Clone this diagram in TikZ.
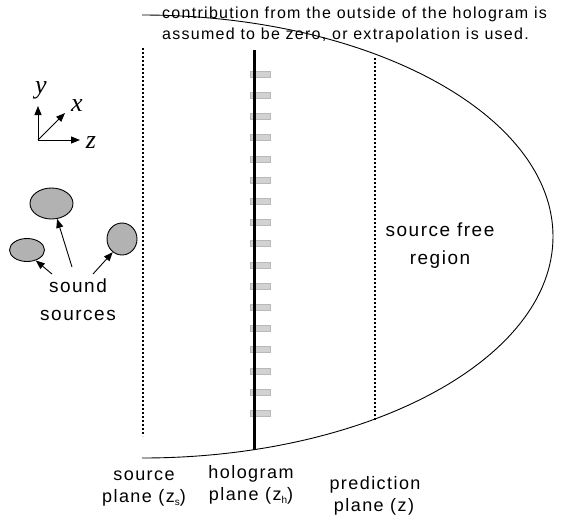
\documentclass[tikz,border=0pt]{standalone}
\usepackage{fontspec}
\setmainfont{Liberation Sans}[LetterSpace=8]
\newfontfamily\tms{Liberation Serif}
\usetikzlibrary{arrows.meta,shapes.geometric}
\newcommand{\smallsub}[1]{\raisebox{-3.5pt}{\fontsize{10}{10}\selectfont #1}}
\begin{document}
\begin{tikzpicture}[x=1pt,y=-1pt,
  lbl/.style={font=\fontsize{18}{22}\selectfont, inner sep=0pt, anchor=base},
  big/.style={font=\fontsize{19}{22}\selectfont, inner sep=0pt, anchor=base},
  toptxt/.style={font=\fontsize{16}{20}\selectfont, inner sep=0pt, anchor=base west},
  axlbl/.style={font=\tms\itshape\fontsize{26}{26}\selectfont, inner sep=0pt},
  axarr/.style={line width=0.9pt, -{Triangle[length=9pt,width=7pt]}},
  srcarr/.style={line width=0.9pt, -{Triangle[length=9pt,width=7pt]}},
  blob/.style={ellipse, draw=black, line width=0.9pt, fill=gray!60, inner sep=0pt},
  dotline/.style={line width=2.2pt, dash pattern=on 2.2pt off 1.8pt},
  mic/.style={draw=gray!55, fill=gray!35, line width=0.4pt, minimum width=20pt, minimum height=6pt, inner sep=0pt},
  bound/.style={line width=0.9pt}]
\useasboundingbox (0,0) rectangle (561,520);
% boundary curve
\coordinate (ctop) at (142,15);
\draw[bound] (ctop) arc[start angle=90, end angle=-90, x radius=411pt, y radius=221.5pt] coordinate (cbot);
% source plane
\coordinate (sp1) at (143,48);
\coordinate (sp2) at (143,436);
\draw[dotline] (sp1) -- (sp2);
% prediction plane
\coordinate (pp1) at (375,58);
\coordinate (pp2) at (375,421);
\draw[dotline] (pp1) -- (pp2);
% hologram plane
\foreach \i in {0,...,16} {
  \node[mic] (m\i) at (260,{74+\i*21.2}) {};
}
\coordinate (hp1) at (254,50);
\coordinate (hp2) at (254,450);
\draw[line width=3pt] (hp1) -- (hp2);
% axes
\coordinate (O) at (38,140);
\coordinate (Y) at (38,106);
\coordinate (X) at (65,113);
\coordinate (Z) at (80,140);
\draw[axarr] (O) -- (Y);
\draw[axarr] (O) -- (X);
\draw[axarr] (O) -- (Z);
\node[axlbl] (ly) at (41,90) {y};
\node[axlbl] (lx) at (77,106) {x};
\node[axlbl] (lz) at (91,143) {z};
% sound sources
\node[blob, minimum width=43pt, minimum height=31pt] (s1) at (51.5,203.5) {};
\node[blob, minimum width=35pt, minimum height=23pt] (s2) at (27,250) {};
\node[blob, minimum width=30pt, minimum height=32pt] (s3) at (122,239) {};
\node[big] (t1) at (78,292) {sound};
\node[big] (t2) at (78,320) {sources};
\coordinate (a1) at (72,267);
\coordinate (a2) at (52,274);
\coordinate (a3) at (93,274);
\draw[srcarr] (a1) -- (s1.290);
\draw[srcarr] (a2) -- (s2.310);
\draw[srcarr] (a3) -- (s3.235);
% source free region
\node[big] (r1) at (440,236) {source free};
\node[big] (r2) at (440,264) {region};
% top text
\node[toptxt] (top1) at (162,18) {contribution from the outside of the hologram is};
\node[toptxt] (top2) at (162,39) {assumed to be zero, or extrapolation is used.};
% bottom labels
\node[lbl] (b1) at (144,480) {source};
\node[lbl] (b2) at (144,502) {plane (z\smallsub{s})};
\node[lbl] (b3) at (251,478) {hologram};
\node[lbl] (b4) at (251,500) {plane (z\smallsub{h})};
\node[lbl] (b5) at (375,489) {prediction};
\node[lbl] (b6) at (374,511) {plane (z)};
\end{tikzpicture}
\end{document}
